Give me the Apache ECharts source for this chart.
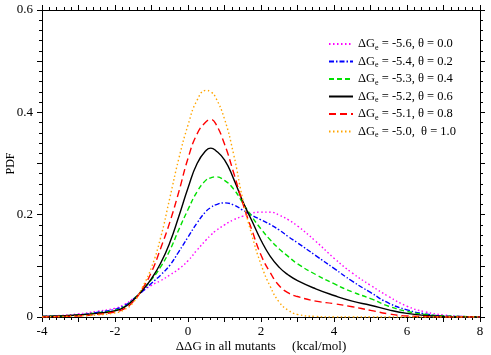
<!DOCTYPE html>
<html>
<head>
<meta charset="utf-8">
<script src="https://cdn.jsdelivr.net/npm/echarts@6/dist/echarts.min.js"></script>
<style>
  html, body { margin: 0; padding: 0; background: #fff; }
  #chart { width: 491px; height: 355px; }
</style>
</head>
<body>
<div id="chart"></div>
<script>
// x 网格 (kcal/mol)
const xs = [-4, -3.5, -3, -2.5, -2, -1.75, -1.5, -1.25, -1, -0.75, -0.5, -0.25, 0, 0.25, 0.5, 0.625, 0.75, 1, 1.25, 1.5, 1.75, 2, 2.25, 2.5, 2.75, 3, 3.5, 4, 4.5, 5, 5.5, 6, 6.5, 7, 7.5, 8];

// PDF values
const theta00 = [0.001, 0.003, 0.006, 0.011, 0.017, 0.024, 0.036, 0.05, 0.062, 0.071, 0.082, 0.094, 0.11, 0.131, 0.151, 0.16, 0.168, 0.18, 0.19, 0.197, 0.203, 0.205, 0.205, 0.199, 0.19, 0.178, 0.148, 0.115, 0.086, 0.062, 0.04, 0.021, 0.01, 0.004, 0.001, 0];
const theta02 = [0.001, 0.002, 0.004, 0.009, 0.015, 0.022, 0.035, 0.05, 0.066, 0.082, 0.101, 0.128, 0.156, 0.184, 0.207, 0.214, 0.219, 0.223, 0.219, 0.209, 0.199, 0.19, 0.181, 0.17, 0.157, 0.145, 0.12, 0.095, 0.07, 0.048, 0.027, 0.014, 0.006, 0.002, 0.001, 0];
const theta04 = [0.001, 0.002, 0.004, 0.008, 0.013, 0.02, 0.034, 0.053, 0.073, 0.098, 0.13, 0.171, 0.21, 0.245, 0.268, 0.272, 0.274, 0.267, 0.25, 0.223, 0.196, 0.172, 0.151, 0.133, 0.118, 0.104, 0.083, 0.065, 0.049, 0.036, 0.021, 0.011, 0.005, 0.002, 0.001, 0];
const theta06 = [0.001, 0.002, 0.004, 0.007, 0.012, 0.019, 0.033, 0.052, 0.075, 0.105, 0.145, 0.197, 0.252, 0.3, 0.326, 0.33, 0.326, 0.307, 0.27, 0.226, 0.188, 0.15, 0.119, 0.097, 0.082, 0.071, 0.055, 0.042, 0.031, 0.023, 0.014, 0.007, 0.003, 0.001, 0, 0];
const theta08 = [0, 0.001, 0.002, 0.005, 0.01, 0.016, 0.03, 0.055, 0.088, 0.134, 0.185, 0.245, 0.31, 0.358, 0.382, 0.386, 0.379, 0.338, 0.282, 0.222, 0.17, 0.121, 0.087, 0.061, 0.047, 0.04, 0.031, 0.026, 0.02, 0.013, 0.006, 0.002, 0.001, 0, 0, 0];
const theta10 = [0, 0.001, 0.002, 0.004, 0.008, 0.014, 0.028, 0.058, 0.097, 0.155, 0.232, 0.31, 0.375, 0.424, 0.443, 0.44, 0.43, 0.387, 0.318, 0.23, 0.16, 0.103, 0.06, 0.029, 0.013, 0.005, 0.001, 0, 0, 0, 0, 0, 0, 0, 0, 0];

const seriesNames = [
  'ΔGe = -5.6, θ = 0.0',
  'ΔGe = -5.4, θ = 0.2',
  'ΔGe = -5.3, θ = 0.4',
  'ΔGe = -5.2, θ = 0.6',
  'ΔGe = -5.1, θ = 0.8',
  'ΔGe = -5.0,  θ = 1.0',
];
const seriesValues = [theta00, theta02, theta04, theta06, theta08, theta10];
const seriesColors = ['#ff00ff', '#0000ff', '#00e000', '#000000', '#ff0000', '#ffa500'];
const seriesDash = [[1.5, 2.5], [5, 2, 1.5, 2], [5, 3], 'solid', [7, 4], [1.5, 2.5]];

const font = '"Liberation Serif", "Times New Roman", serif';

const chart = echarts.init(document.getElementById('chart'));

const baseX = {
  type: 'value',
  min: -4,
  max: 8,
  interval: 1,
  axisLine: { show: true, onZero: false, lineStyle: { color: '#000', width: 1 } },
  axisTick: { show: true, inside: false, length: 5, lineStyle: { color: '#000' } },
  minorTick: { show: true, splitNumber: 5, length: 3, lineStyle: { color: '#000' } },
  splitLine: { show: false },
};
const baseY = {
  type: 'value',
  min: 0,
  max: 0.6,
  interval: 0.1,
  axisLine: { show: true, onZero: false, lineStyle: { color: '#000', width: 1 } },
  axisTick: { show: true, inside: false, length: 5, lineStyle: { color: '#000' } },
  minorTick: { show: true, splitNumber: 5, length: 3, lineStyle: { color: '#000' } },
  splitLine: { show: false },
};

const option = {
  animation: false,
  backgroundColor: '#fff',
  grid: { left: 42, right: 11, top: 10, bottom: 38, outerBoundsMode: 'none', containLabel: false },
  legend: {
    orient: 'vertical',
    left: 323,
    top: 32,
    itemWidth: 24,
    itemHeight: 10,
    itemGap: 3,
    data: seriesNames,
    itemStyle: { opacity: 0 },
    formatter: (name) => name.replace('ΔGe', 'ΔG{s|e}'),
    textStyle: {
      fontFamily: font,
      fontSize: 12.5,
      color: '#000',
      lineHeight: 14,
      rich: {
        s: { fontFamily: font, fontSize: 8, padding: [7, 0, 0, 0] },
      },
    },
  },
  xAxis: [
    Object.assign({}, baseX, {
      position: 'bottom',
      name: 'ΔΔG in all mutants     (kcal/mol)',
      nameLocation: 'middle',
      nameGap: 23,
      nameMoveOverlap: false,
      nameTextStyle: { fontFamily: font, fontSize: 13, color: '#000' },
      axisLabel: {
        margin: 8,
        fontFamily: font,
        fontSize: 13,
        color: '#000',
        formatter: (v) => (v % 2 === 0 ? String(v) : ''),
      },
    }),
    Object.assign({}, baseX, { position: 'top', axisLabel: { show: false } }),
  ],
  yAxis: [
    Object.assign({}, baseY, {
      position: 'left',
      name: 'PDF',
      nameLocation: 'middle',
      nameGap: 25,
      nameMoveOverlap: false,
      nameTextStyle: { fontFamily: font, fontSize: 12, color: '#000' },
      axisLabel: {
        margin: 9,
        fontFamily: font,
        fontSize: 13,
        color: '#000',
        formatter: (v) => {
          const r = Math.round(v * 10);
          return r % 2 === 0 ? (r === 0 ? '0' : (r / 10).toFixed(1)) : '';
        },
      },
    }),
    Object.assign({}, baseY, { position: 'right', axisLabel: { show: false } }),
  ],
  series: seriesNames.map((name, k) => ({
    name: name,
    type: 'line',
    xAxisIndex: 0,
    yAxisIndex: 0,
    smooth: 0.5,
    symbol: 'none',
    data: xs.map((x, i) => [x, seriesValues[k][i]]),
    lineStyle: { color: seriesColors[k], width: 1.4, type: seriesDash[k] },
    itemStyle: { color: seriesColors[k] },
  })),
};

chart.setOption(option);
</script>
</body>
</html>
